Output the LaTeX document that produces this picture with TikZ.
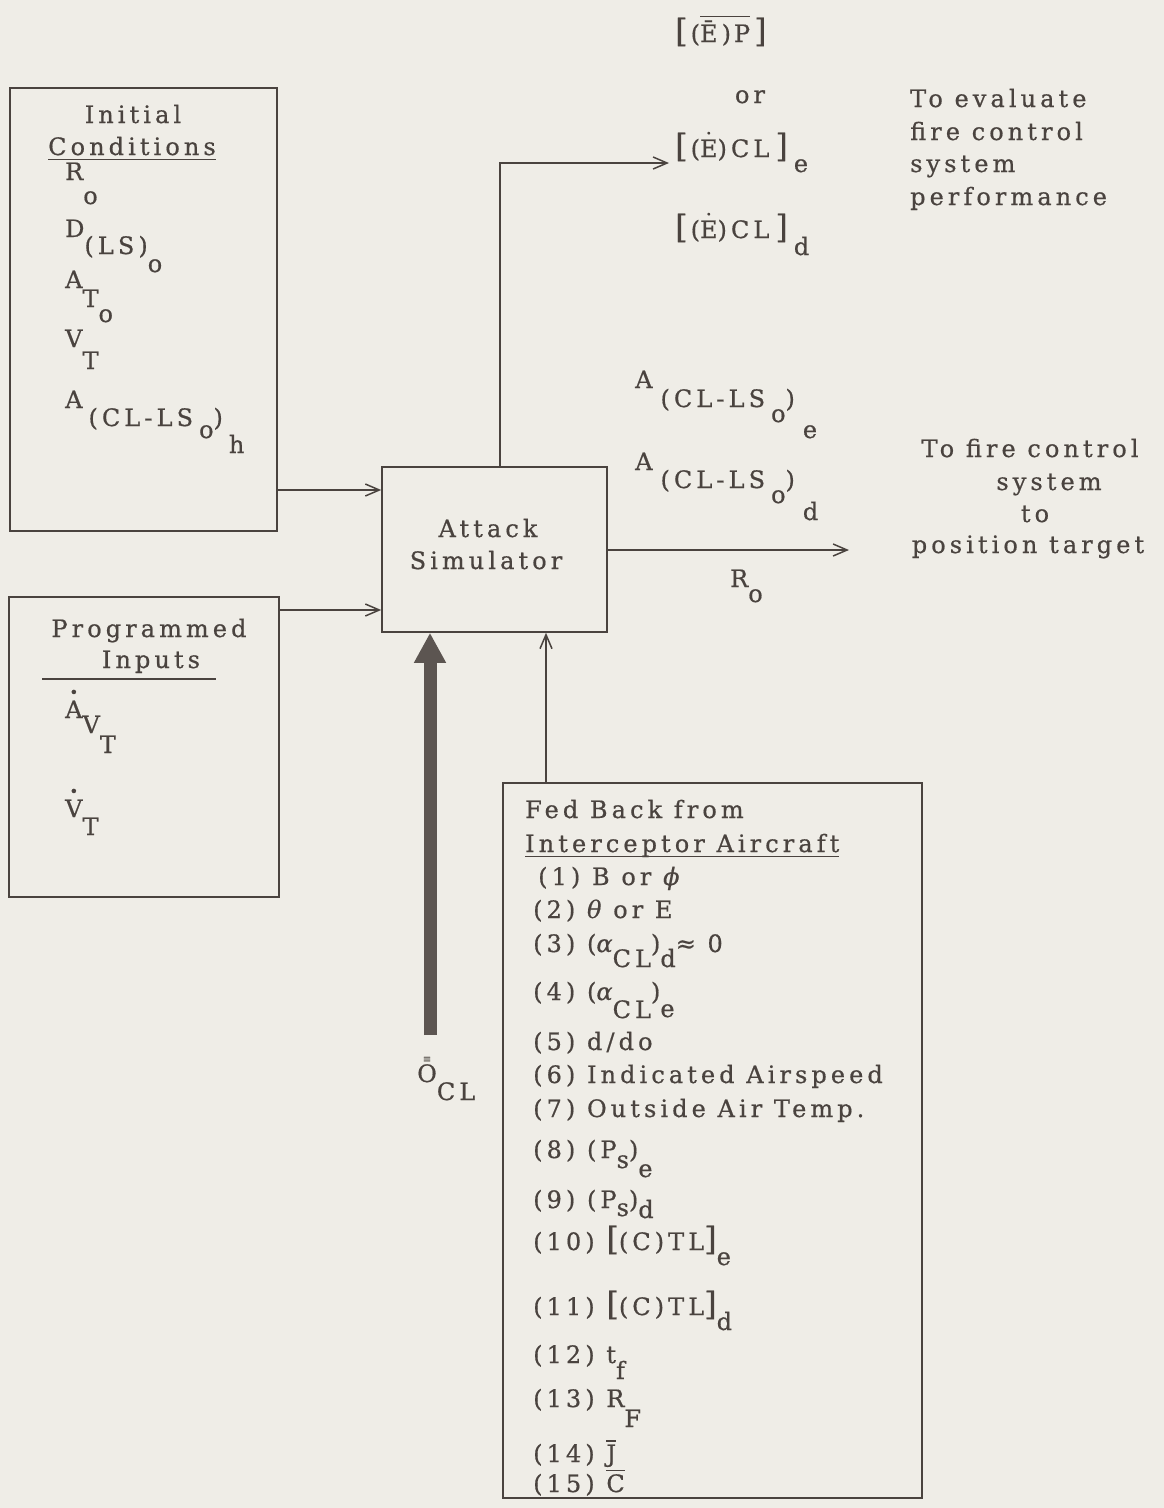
\documentclass[tikz,border=0pt]{standalone}
\usepackage{fontspec}
\usetikzlibrary{arrows.meta}
\newfontfamily\tf[LetterSpace=17,FakeBold=0.6]{DejaVu Serif}
\definecolor{paper}{HTML}{EFEDE7}
\definecolor{ink}{HTML}{4A433F}
\definecolor{shaft}{HTML}{5C5551}
\newcommand\lw[2]{\raisebox{-#1pt}{#2}}
\newcommand\bigbr[1]{{\fontsize{32}{32}\selectfont #1}}
\newcommand\ovl[1]{\setbox0=\hbox{#1}\rlap{\raisebox{\dimexpr\ht0+3pt\relax}{\rule{\wd0}{1.3pt}}}\box0}
\newcommand\ulx[1]{\setbox0=\hbox{#1}\rlap{\raisebox{-5pt}{\rule{\wd0}{1.3pt}}}\box0}
\newcommand\dotted[2][15]{\vbox{\offinterlineskip\halign{\hfil##\hfil\cr{\fontsize{#1}{#1}\selectfont\textbullet}\cr\noalign{\kern3pt}#2\cr}}}
\newcommand\gr[1]{{\itshape #1}}
\begin{document}
\begin{tikzpicture}[x=1pt,y=-1pt,
  txt/.style={font=\tf\fontsize{24}{28}\selectfont, text=ink, inner sep=0pt, anchor=base west},
  ctxt/.style={txt, anchor=base},
  box/.style={draw=ink, line width=1.6pt, inner sep=0pt},
  arr/.style={draw=ink, line width=1.5pt, -{Straight Barb[length=14pt,width=12pt,line width=1.5pt]}},
  thick arr/.style={draw=shaft, line width=13pt, -{Triangle[length=30pt,width=30pt]}}]
\useasboundingbox[fill=paper] (0,0) rectangle (1164,1508);

% boxes
\node[box, minimum width=267pt, minimum height=443pt] (ic) at (143.5,309.5) {};
\node[box, minimum width=270pt, minimum height=300pt] (pi) at (144,747) {};
\node[box, minimum width=225pt, minimum height=165pt] (as) at (494.5,549.5) {};
\node[box, minimum width=419pt, minimum height=715pt] (fb) at (712.5,1140.5) {};

% coordinates
\coordinate (y490) at (0,490);
\coordinate (y610) at (0,610);
\coordinate (y550) at (0,550);
\coordinate (x500) at (500,0);
\coordinate (x430) at (430,0);
\coordinate (x546) at (546,0);
\coordinate (t1) at (669,163);
\coordinate (t2) at (849,550);
\coordinate (ocl) at (430,1035);

% connectors
\draw[arr] (ic.east |- y490) -- (as.west |- y490);
\draw[arr] (pi.east |- y610) -- (as.west |- y610);
\draw[arr] (as.north -| x500) |- (t1);
\draw[arr] (as.east |- y550) -- (t2);
\draw[thick arr] (ocl) -- (as.south -| x430);
\draw[arr] (fb.north -| x546) -- (as.south -| x546);

% Initial conditions
\node[ctxt] (ic1) at (133,123) {Initial};
\node[ctxt] (ic2) at (132,155) {\ulx{Conditions}};
\node[txt] (ic3) at (65,180) {R\lw{24}{o}};
\node[txt] (ic4) at (65,237) {D\lw{17}{(LS)\lw{18}{o}}};
\node[txt] (ic5) at (65,288) {A\lw{19}{T\lw{15}{o}}};
\node[txt] (ic6) at (65,347) {V\lw{22}{T}};
\node[txt] (ic7) at (65,408) {A\kern6pt\lw{18}{(CL-LS\kern6pt\lw{12}{o})\kern6pt\lw{27}{h}}};

% Programmed inputs
\node[ctxt] (pi1) at (149,637) {Programmed};
\node[ctxt] (pi2) at (151,668) {Inputs};
\coordinate (u1) at (42,679);
\coordinate (u2) at (216,679);
\draw[ink, line width=1.4pt] (u1) -- (u2);
\node[txt] (pi3) at (65,718) {\dotted{A}\lw{15}{V\lw{20}{T}}};
\node[txt] (pi4) at (65,817) {\dotted{V}\lw{18}{T}};

% Attack simulator
\node[ctxt] (as1) at (488,537) {Attack};
\node[ctxt] (as2) at (486,569) {Simulator};

% top outputs
\node[txt] (ep) at (675,42) {\bigbr{[}\kern3pt(\ovl{\=E)\kern3pt P}\kern4pt\bigbr{]}};
\node[ctxt] (or) at (750,103) {or};
\node[txt] (ece) at (675,157) {\bigbr{[}\kern3pt(\dotted[9]{E})CL\kern6pt\bigbr{]}\kern6pt\lw{15}{e}};
\node[txt] (ecd) at (675,238) {\bigbr{[}\kern3pt(\dotted[9]{E})CL\kern6pt\bigbr{]}\kern6pt\lw{17}{d}};
\node[txt] (te1) at (910,107) {To evaluate};
\node[txt] (te2) at (910,140) {fire control};
\node[txt] (te3) at (910,172) {system};
\node[txt] (te4) at (910,205) {performance};

% right outputs
\node[txt] (ae) at (635,388) {A\kern8pt\lw{19}{(CL-LS\kern6pt\lw{15}{o})\kern8pt\lw{31}{e}}};
\node[txt] (ad) at (635,470) {A\kern8pt\lw{18}{(CL-LS\kern6pt\lw{15}{o})\kern8pt\lw{32}{d}}};
\node[txt] (ro) at (730,587) {R\lw{15}{o}};
\node[ctxt] (tf1) at (1030,457) {To fire control};
\node[ctxt] (tf2) at (1049,490) {system};
\node[ctxt] (tf3) at (1035,522) {to};
\node[ctxt] (tf4) at (1028,553) {position target};

% O_CL label
\node[txt] (oc) at (417,1082) {\vbox{\offinterlineskip\halign{\hfil#\hfil\cr{\fontsize{10}{10}\selectfont ≡}\cr\noalign{\kern2pt}O\cr}}\lw{18}{CL}};

% Fed back list
\node[txt] (f0) at (525,818) {Fed Back from};
\node[txt] (f00) at (525,852) {\ulx{Interceptor Aircraft}};
\node[txt] (f1) at (538,885) {(1) B or \gr{ϕ}};
\node[txt] (f2) at (533,918) {(2) \gr{θ} or E};
\node[txt] (f3) at (533,952) {(3) (\gr{α}\lw{15}{CL})\lw{15}{d}≈ 0};
\node[txt] (f4) at (533,1000) {(4) (\gr{α}\lw{18}{CL})\lw{17}{e}};
\node[txt] (f5) at (533,1050) {(5) d/do};
\node[txt] (f6) at (533,1083) {(6) Indicated Airspeed};
\node[txt] (f7) at (533,1117) {(7) Outside Air Temp.};
\node[txt] (f8) at (533,1158) {(8) (P\lw{10}{s})\lw{19}{e}};
\node[txt] (f9) at (533,1208) {(9) (P\lw{8}{s})\lw{10}{d}};
\node[txt] (f10) at (533,1250) {(10) \bigbr{[}(C)TL\bigbr{]}\lw{15}{e}};
\node[txt] (f11) at (533,1315) {(11) \bigbr{[}(C)TL\bigbr{]}\lw{15}{d}};
\node[txt] (f12) at (533,1363) {(12) t\lw{16}{f}};
\node[txt] (f13) at (533,1407) {(13) R\lw{20}{F}};
\node[txt] (f14) at (533,1462) {(14) \ovl{J}};
\node[txt] (f15) at (533,1492) {(15) \ovl{C}};
\end{tikzpicture}
\end{document}
